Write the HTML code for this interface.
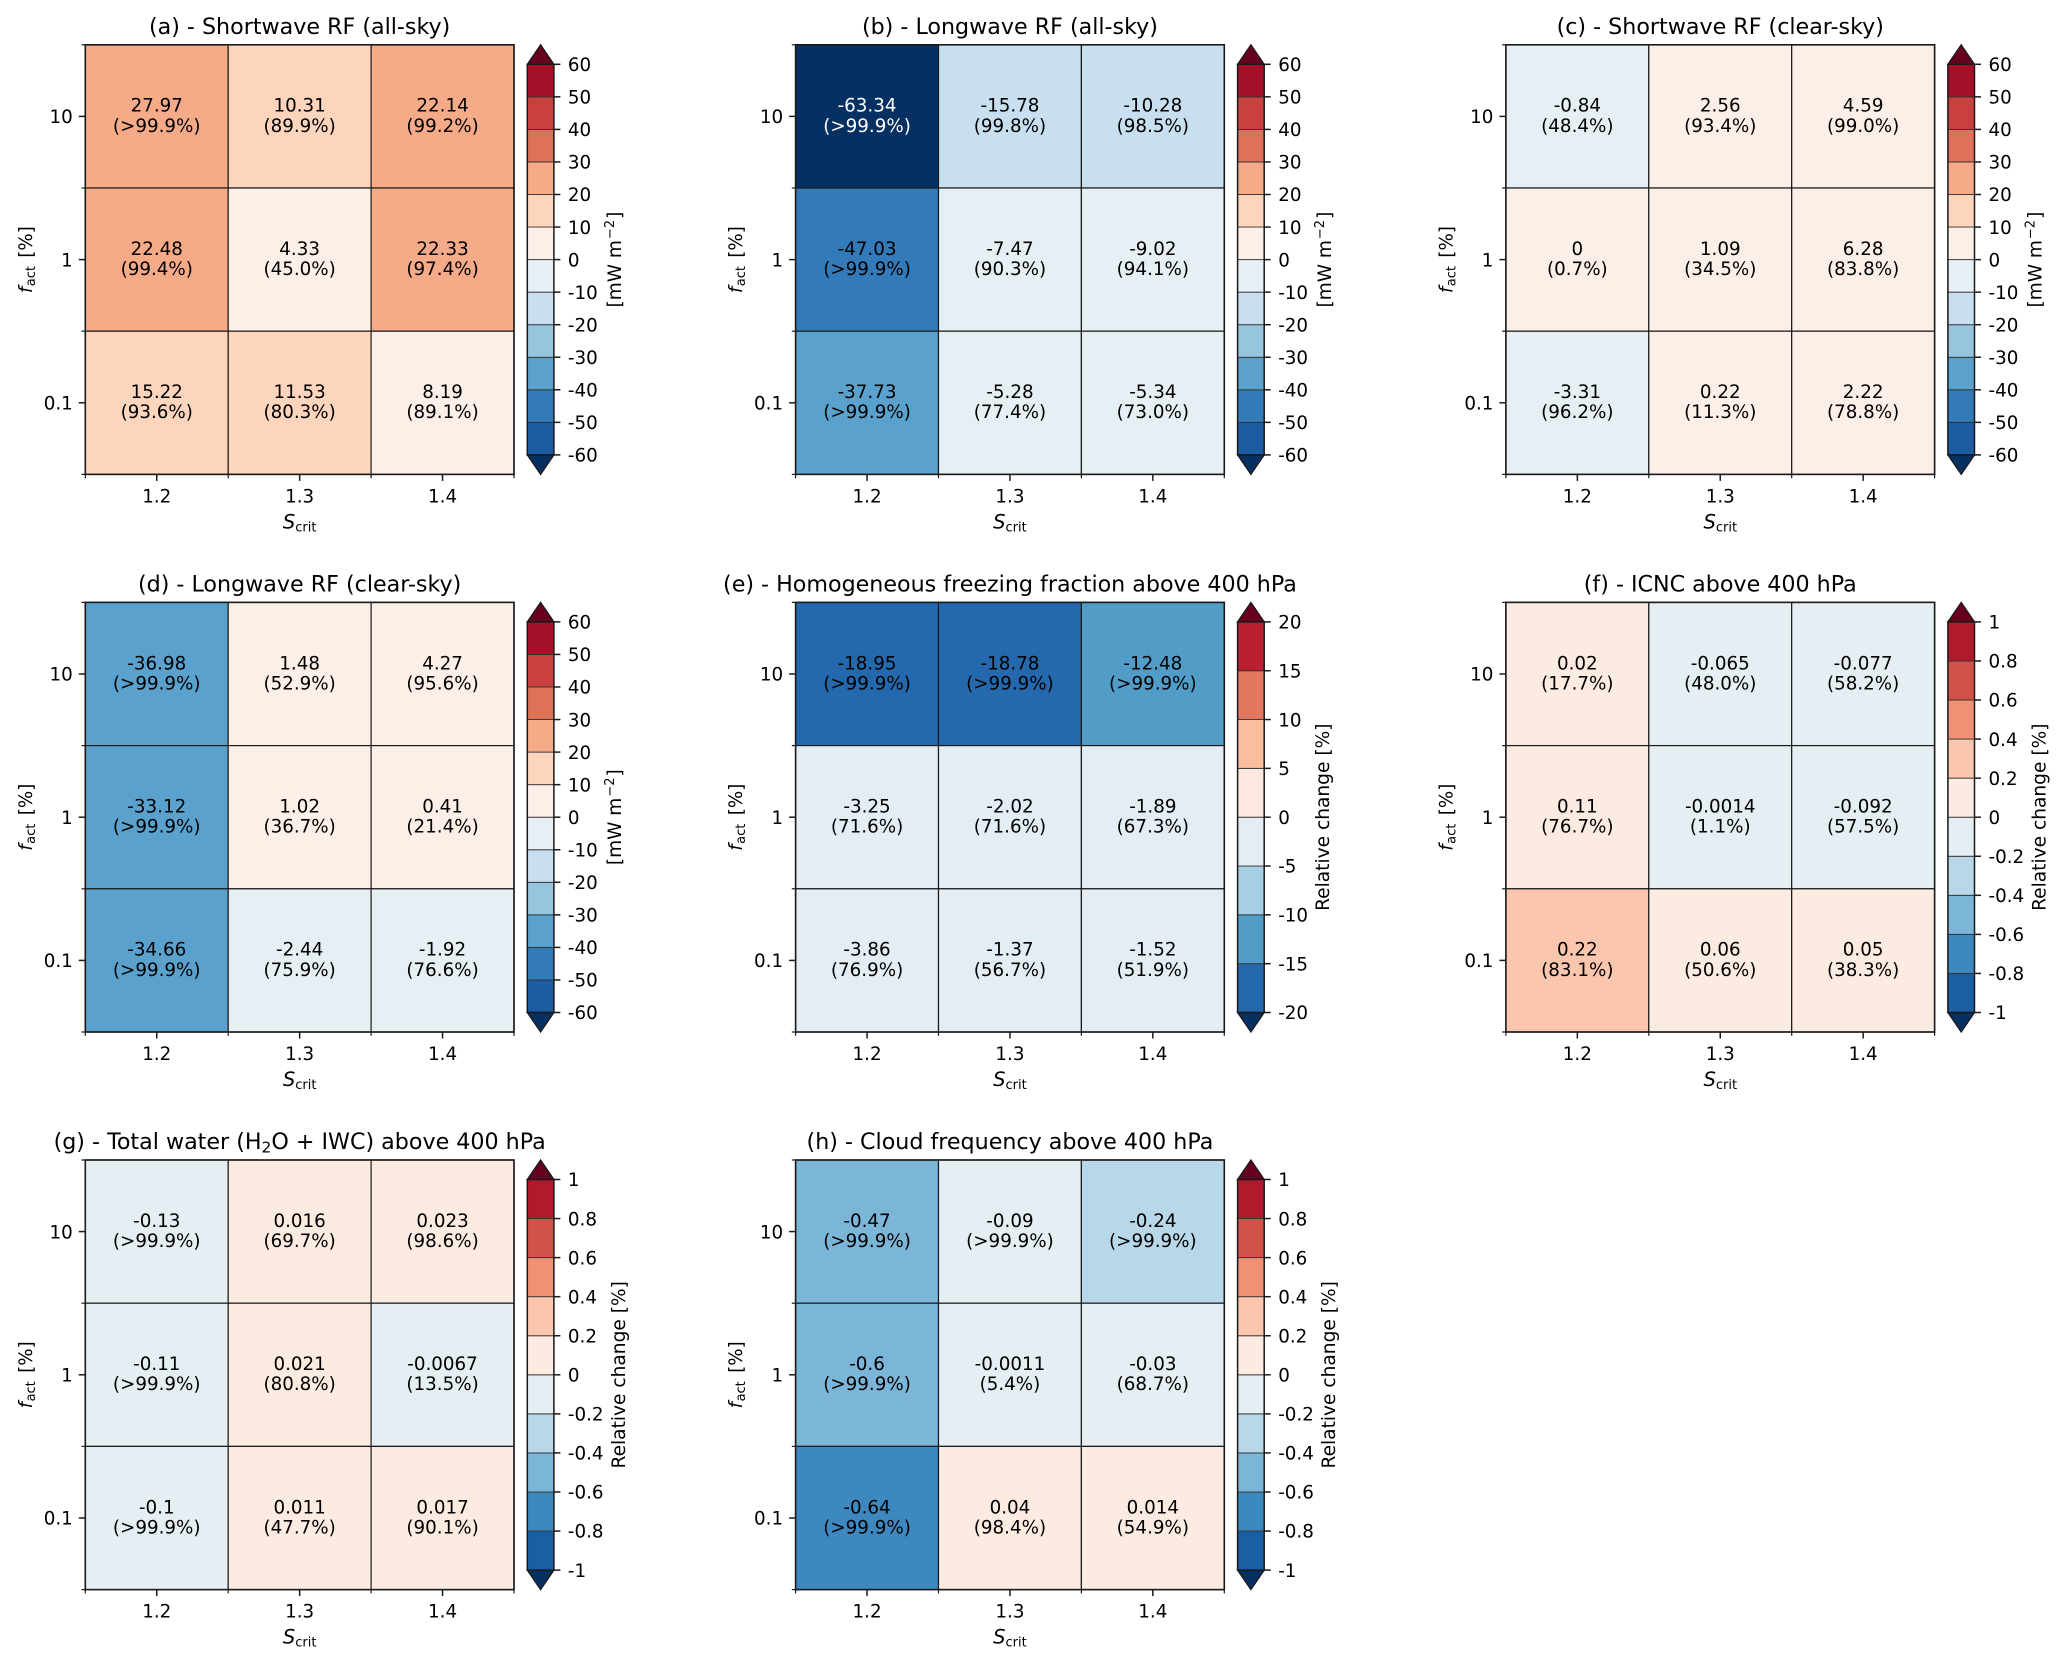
<!DOCTYPE html>
<html lang="en">
<head>
<meta charset="utf-8">
<title>Radiative forcing sensitivity panels</title>
<style>
html,body{margin:0;padding:0;background:#fff;}
svg{display:block;filter:blur(0.35px);}
text{font-family:"DejaVu Sans","Liberation Sans",sans-serif;fill:#000;}
</style>
</head>
<body>
<svg id="figure" xmlns="http://www.w3.org/2000/svg" width="2067" height="1662" viewBox="0 0 2067 1662"></svg>
<script>
const scritLabels = ['1.2', '1.3', '1.4'];
const factLabels = ['10', '1', '0.1'];

const panelLetters = ['a', 'b', 'c', 'd', 'e', 'f', 'g', 'h'];
const panelTitles = [
  '(a) - Shortwave RF (all-sky)',
  '(b) - Longwave RF (all-sky)',
  '(c) - Shortwave RF (clear-sky)',
  '(d) - Longwave RF (clear-sky)',
  '(e) - Homogeneous freezing fraction above 400 hPa',
  '(f) - ICNC above 400 hPa',
  '(g) - Total water (H_2O + IWC) above 400 hPa',
  '(h) - Cloud frequency above 400 hPa'
];

const valuesA = [[27.97, 10.31, 22.14], [22.48, 4.33, 22.33], [15.22, 11.53, 8.19]];
const valuesB = [[-63.34, -15.78, -10.28], [-47.03, -7.47, -9.02], [-37.73, -5.28, -5.34]];
const valuesC = [[-0.84, 2.56, 4.59], [0, 1.09, 6.28], [-3.31, 0.22, 2.22]];
const valuesD = [[-36.98, 1.48, 4.27], [-33.12, 1.02, 0.41], [-34.66, -2.44, -1.92]];
const valuesE = [[-18.95, -18.78, -12.48], [-3.25, -2.02, -1.89], [-3.86, -1.37, -1.52]];
const valuesF = [[0.02, -0.065, -0.077], [0.11, -0.0014, -0.092], [0.22, 0.06, 0.05]];
const valuesG = [[-0.13, 0.016, 0.023], [-0.11, 0.021, -0.0067], [-0.1, 0.011, 0.017]];
const valuesH = [[-0.47, -0.09, -0.24], [-0.6, -0.0011, -0.03], [-0.64, 0.04, 0.014]];

const signifA = [['>99.9', '89.9', '99.2'], ['99.4', '45.0', '97.4'], ['93.6', '80.3', '89.1']];
const signifB = [['>99.9', '99.8', '98.5'], ['>99.9', '90.3', '94.1'], ['>99.9', '77.4', '73.0']];
const signifC = [['48.4', '93.4', '99.0'], ['0.7', '34.5', '83.8'], ['96.2', '11.3', '78.8']];
const signifD = [['>99.9', '52.9', '95.6'], ['>99.9', '36.7', '21.4'], ['>99.9', '75.9', '76.6']];
const signifE = [['>99.9', '>99.9', '>99.9'], ['71.6', '71.6', '67.3'], ['76.9', '56.7', '51.9']];
const signifF = [['17.7', '48.0', '58.2'], ['76.7', '1.1', '57.5'], ['83.1', '50.6', '38.3']];
const signifG = [['>99.9', '69.7', '98.6'], ['>99.9', '80.8', '13.5'], ['>99.9', '47.7', '90.1']];
const signifH = [['>99.9', '>99.9', '>99.9'], ['>99.9', '5.4', '68.7'], ['>99.9', '98.4', '54.9']];

const levelsRF = [-60, -50, -40, -30, -20, -10, 0, 10, 20, 30, 40, 50, 60];
const levelsFreezing = [-20, -15, -10, -5, 0, 5, 10, 15, 20];
const levelsRelative = [-1, -0.8, -0.6, -0.4, -0.2, 0, 0.2, 0.4, 0.6, 0.8, 1];

const paletteRF = ['#053061', '#1c5ca3', '#337bb8', '#5aa2cd', '#97c5de', '#c8dfef', '#e6eff3', '#fcefe8', '#fdd5bd', '#f5aa88', '#de7259', '#c9413e', '#a51029', '#67001f'];
const paletteFreezing = ['#053061', '#2469ae', '#529dc8', '#a6cfe4', '#e3edf3', '#fce8de', '#fbbd9c', '#e1785f', '#ba1f31', '#67001f'];
const paletteRelative = ['#053061', '#1a5fa3', '#3c88bf', '#7bb5d8', '#b8d8ea', '#e5eef3', '#fcebe1', '#fbc6ae', '#ee9273', '#d15247', '#b11a2d', '#67001f'];

const panelValues = [valuesA, valuesB, valuesC, valuesD, valuesE, valuesF, valuesG, valuesH];
const panelSignif = [signifA, signifB, signifC, signifD, signifE, signifF, signifG, signifH];
const panelLevels = [levelsRF, levelsRF, levelsRF, levelsRF, levelsFreezing, levelsRelative, levelsRelative, levelsRelative];
const panelPalettes = [paletteRF, paletteRF, paletteRF, paletteRF, paletteFreezing, paletteRelative, paletteRelative, paletteRelative];
const panelUnits = ['mw', 'mw', 'mw', 'mw', 'rel', 'rel', 'rel', 'rel'];

const SVG_NS = 'http://www.w3.org/2000/svg';
const figure = document.getElementById('figure');
const TICK_FS = 18.3, TITLE_FS = 22.2, SUB_FS = 13;
const AX_W = 428.7, AX_H = 429.6;
const INK = '#1a1a1a';

function make(parent, tag, attrs) {
  const el = document.createElementNS(SVG_NS, tag);
  for (const k in attrs) el.setAttribute(k, attrs[k]);
  parent.appendChild(el);
  return el;
}
function span(parent, content, attrs) {
  const t = make(parent, 'tspan', attrs || {});
  t.textContent = content;
  return t;
}
function panelLeft(col) { return 85.3 + 710.3 * col; }
function panelTop(row) { return 44.8 + 557.6 * row; }
function xScale(left, i) { return left + (i + 0.5) * AX_W / scritLabels.length; }
function xEdge(left, i) { return left + i * AX_W / scritLabels.length; }
function yScale(top, j) { return top + (j + 0.5) * AX_H / factLabels.length; }
function yEdge(top, j) { return top + j * AX_H / factLabels.length; }
function binIndex(value, levels) {
  let bin = 0;
  while (bin < levels.length && value >= levels[bin]) bin++;
  return bin;
}
function colorFor(value, levels, palette) { return palette[binIndex(value, levels)]; }
function textColorFor(value, levels) { return binIndex(value, levels) === 0 ? '#ffffff' : '#000000'; }

function drawHeatmap(g, p, left, top) {
  const values = panelValues[p], signif = panelSignif[p];
  const levels = panelLevels[p], palette = panelPalettes[p];
  factLabels.forEach(function (fact, j) {
    scritLabels.forEach(function (scrit, i) {
      const cell = make(g, 'rect', {
        x: xEdge(left, i), y: yEdge(top, j),
        width: AX_W / scritLabels.length, height: AX_H / factLabels.length,
        fill: colorFor(values[j][i], levels, palette), stroke: INK, 'stroke-width': 1.2
      });
      
      
      const ink = textColorFor(values[j][i], levels);
      const valueText = make(g, 'text', {
        x: xScale(left, i), y: yScale(top, j) - 4.7,
        'text-anchor': 'middle', 'font-size': TICK_FS, style: 'fill:' + ink
      });
      valueText.textContent = String(values[j][i]);
      
      
      const signifText = make(g, 'text', {
        x: xScale(left, i), y: yScale(top, j) + 15.4,
        'text-anchor': 'middle', 'font-size': TICK_FS, style: 'fill:' + ink
      });
      signifText.textContent = '(' + signif[j][i] + '%)';
      
      
    });
  });
  const frame = make(g, 'rect', { x: left, y: top, width: AX_W, height: AX_H, fill: 'none', stroke: INK, 'stroke-width': 1.6 });
  
  
}

function drawAxes(g, left, top) {
  const bottom = top + AX_H;
  scritLabels.forEach(function (label, i) {
    const tick = make(g, 'line', { x1: xScale(left, i), x2: xScale(left, i), y1: bottom, y2: bottom + 6.5, stroke: INK, 'stroke-width': 1.5 });
    
    
    const text = make(g, 'text', { x: xScale(left, i), y: bottom + 28, 'text-anchor': 'middle', 'font-size': TICK_FS });
    text.textContent = label;
    
    
  });
  for (let i = 0; i <= scritLabels.length; i++) {
    const minor = make(g, 'line', { x1: xEdge(left, i), x2: xEdge(left, i), y1: bottom, y2: bottom + 3.8, stroke: INK, 'stroke-width': 1.2 });
    
    
  }
  factLabels.forEach(function (label, j) {
    const tick = make(g, 'line', { x1: left - 6.5, x2: left, y1: yScale(top, j), y2: yScale(top, j), stroke: INK, 'stroke-width': 1.5 });
    
    
    const text = make(g, 'text', { x: left - 12.5, y: yScale(top, j) + 6.7, 'text-anchor': 'end', 'font-size': TICK_FS });
    text.textContent = label;
    
    
  });
  for (let j = 0; j <= factLabels.length; j++) {
    const minor = make(g, 'line', { x1: left - 3.8, x2: left, y1: yEdge(top, j), y2: yEdge(top, j), stroke: INK, 'stroke-width': 1.2 });
    
    
  }
  const xTitle = make(g, 'text', { x: left + AX_W / 2, y: bottom + 54, 'text-anchor': 'middle', 'font-size': 19.5 });
  span(xTitle, 'S', { 'font-style': 'italic' });
  span(xTitle, 'crit', { 'font-size': SUB_FS, dy: 3 });
  
  
  const cy = top + AX_H / 2, yx = left - 53.5;
  const yTitle = make(g, 'text', { x: yx, y: cy, transform: 'rotate(-90 ' + yx + ' ' + cy + ')', 'text-anchor': 'middle', 'font-size': TICK_FS });
  span(yTitle, 'f', { 'font-style': 'italic' });
  span(yTitle, 'act', { 'font-size': SUB_FS, dy: 3, dx: 0.5 });
  span(yTitle, ' [%]', { dy: -3, dx: 2.5 });
  
  
}

function drawTitle(g, p, left, top) {
  const title = make(g, 'text', { x: left + AX_W / 2, y: top - 11, 'text-anchor': 'middle', 'font-size': TITLE_FS });
  const parts = panelTitles[p].split('_2');
  span(title, parts[0]);
  if (parts.length > 1) {
    span(title, '2', { 'font-size': 15.4, dy: 3.5 });
    span(title, parts[1], { dy: -3.5 });
  }
  
  
}

function drawColorbar(g, p, left, top) {
  const levels = panelLevels[p], palette = panelPalettes[p];
  const cbX = left + AX_W + 13.3, cbW = 26.6, cbTop = top + 19.5, cbH = AX_H - 39;
  const lo = levels[0], hi = levels[levels.length - 1];
  function cbY(v) { return cbTop + (hi - v) / (hi - lo) * cbH; }
  for (let b = 0; b < levels.length - 1; b++) {
    const seg = make(g, 'rect', { x: cbX, y: cbY(levels[b + 1]), width: cbW, height: cbY(levels[b]) - cbY(levels[b + 1]), fill: palette[b + 1], stroke: '#333', 'stroke-width': 0.9 });
    
    
  }
  const over = make(g, 'polygon', { points: [cbX, cbTop, cbX + cbW, cbTop, cbX + cbW / 2, top].join(' '), fill: palette[palette.length - 1], stroke: INK, 'stroke-width': 1.3 });
  
  
  const under = make(g, 'polygon', { points: [cbX, cbTop + cbH, cbX + cbW, cbTop + cbH, cbX + cbW / 2, top + AX_H].join(' '), fill: palette[0], stroke: INK, 'stroke-width': 1.3 });
  
  
  const outline = make(g, 'rect', { x: cbX, y: cbTop, width: cbW, height: cbH, fill: 'none', stroke: INK, 'stroke-width': 1.5 });
  
  
  levels.forEach(function (level) {
    const tick = make(g, 'line', { x1: cbX + cbW, x2: cbX + cbW + 6.5, y1: cbY(level), y2: cbY(level), stroke: INK, 'stroke-width': 1.5 });
    
    
    const text = make(g, 'text', { x: cbX + cbW + 14, y: cbY(level) + 6.7, 'font-size': TICK_FS });
    text.textContent = String(level);
    
    
  });
  const gap = panelUnits[p] === 'mw' ? 67 : (levels === levelsFreezing ? 65 : 71);
  const lx = cbX + cbW + gap, ly = top + AX_H / 2;
  const label = make(g, 'text', { x: lx, y: ly, transform: 'rotate(-90 ' + lx + ' ' + ly + ')', 'text-anchor': 'middle', 'font-size': panelUnits[p] === 'mw' ? 18.5 : 18.6 });
  if (panelUnits[p] === 'mw') {
    span(label, '[mW m');
    span(label, '\u22122', { 'font-size': SUB_FS, dy: -7, dx: 1 });
    span(label, ']', { dy: 7, dx: 1 });
  } else {
    span(label, 'Relative change [%]');
  }
  
  
}

panelLetters.forEach(function (letter, p) {
  const left = panelLeft(p % 3), top = panelTop(Math.floor(p / 3));
  const g = make(figure, 'g', {});
  
  
  drawHeatmap(g, p, left, top);
  drawAxes(g, left, top);
  drawTitle(g, p, left, top);
  drawColorbar(g, p, left, top);
});
</script>
</body>
</html>
